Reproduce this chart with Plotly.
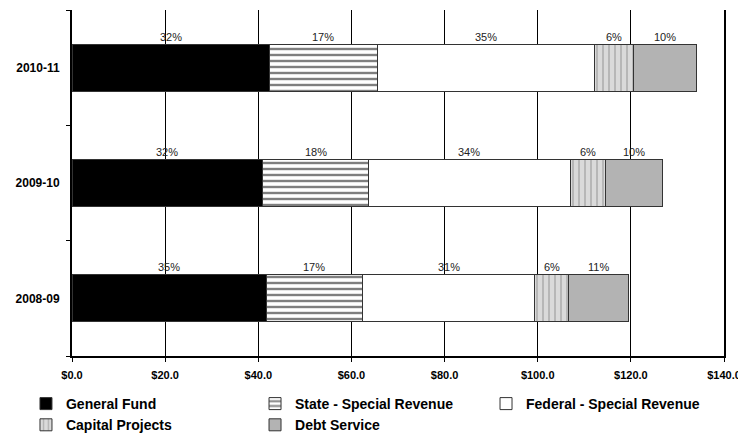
import plotly.graph_objects as go

years = ["2008-09", "2009-10", "2010-11"]
general_fund = [41.7, 41.0, 42.4]
state_special = [20.7, 22.6, 23.2]
federal_special = [37.0, 43.5, 46.6]
capital_projects = [7.2, 7.5, 8.3]
debt_service = [12.8, 12.3, 13.5]
x_ticks = [0, 20, 40, 60, 80, 100, 120, 140]
x_tick_labels = ["$0.0", "$20.0", "$40.0", "$60.0", "$80.0", "$100.0", "$120.0", "$140.0"]

FONT = "Arial, Liberation Sans, sans-serif"

series = [
    ("General Fund", general_fund, dict(color="black"), "legend"),
    ("State - Special Revenue", state_special,
     dict(color="white", pattern=dict(shape="-", fgcolor="black", bgcolor="white", size=6, solidity=0.4)), "legend2"),
    ("Federal - Special Revenue", federal_special, dict(color="white"), "legend3"),
    ("Capital Projects", capital_projects,
     dict(color="#d4d4d4", pattern=dict(shape="|", fgcolor="#8c8c8c", bgcolor="#dadada", size=6, solidity=0.3)), "legend"),
    ("Debt Service", debt_service, dict(color="#b3b3b3"), "legend2"),
]

fig = go.Figure()
for name, vals, mk, lg in series:
    mk = dict(mk)
    mk["line"] = dict(color="#333333", width=1)
    fig.add_trace(go.Bar(y=years, x=vals, name=name, orientation="h", marker=mk, legend=lg))

# percentage labels above each segment
totals = [sum(v[i] for _, v, _, _ in series) for i in range(len(years))]
for i, yr in enumerate(years):
    cum = 0.0
    for name, vals, _, _ in series:
        v = vals[i]
        fig.add_annotation(x=cum + v / 2, y=yr, text=f"{round(100 * v / totals[i])}%",
                           showarrow=False, yshift=31,
                           font=dict(family=FONT, size=11, color="#222"))
        cum += v

leg_common = dict(orientation="v", yanchor="top", xanchor="left", y=-0.0925,
                  traceorder="normal", itemwidth=30, tracegroupgap=0,
                  font=dict(family=FONT, size=14, weight="bold", color="black"),
                  bgcolor="rgba(0,0,0,0)")

# page has an 8px body margin, so the figure is sized to fit the 746x437 window
fig.update_layout(
    barmode="stack",
    bargap=0.59,
    width=738, height=429,
    margin=dict(l=64, r=22, t=2, b=81, autoexpand=False),
    plot_bgcolor="white", paper_bgcolor="white",
    font=dict(family=FONT, color="black"),
    showlegend=True,
    legend=dict(leg_common, x=-0.0706),
    legend2=dict(leg_common, x=0.2807),
    legend3=dict(leg_common, x=0.635),
)
fig.update_xaxes(range=[0, 140], tickvals=x_ticks, ticktext=x_tick_labels,
                 showgrid=True, gridcolor="black", gridwidth=1,
                 showline=True, linecolor="black", linewidth=2,
                 ticks="outside", ticklen=4, tickcolor="black", ticklabelstandoff=4,
                 tickfont=dict(family=FONT, size=11, weight="bold"), zeroline=False, fixedrange=True)
fig.update_yaxes(type="category", categoryorder="array", categoryarray=years,
                 showline=True, linecolor="black", linewidth=2, mirror=True,
                 ticks="outside", tickson="boundaries", ticklen=4, tickcolor="black",
                 ticklabelstandoff=8,
                 tickfont=dict(family=FONT, size=12, weight="bold"), showgrid=False)

fig.write_html("out.html")
